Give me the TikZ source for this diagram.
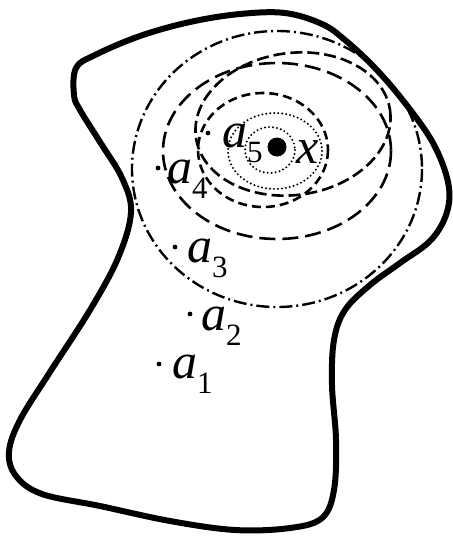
\documentclass[tikz,border=0pt]{standalone}
\usepackage{fontspec}
\setmainfont{Liberation Serif}
\newcommand\subdig[1]{\raisebox{-15pt}{\fontsize{31}{31}\selectfont\upshape #1}}
\begin{document}
\begin{tikzpicture}[x=1pt,y=-1pt,
  blob/.style={line width=6pt, line join=round},
  eone/.style={line width=2.6pt, dash pattern=on 9pt off 5pt},
  etwo/.style={line width=2.6pt, dash pattern=on 12pt off 5pt},
  ethree/.style={line width=2.6pt, dash pattern=on 16pt off 7pt},
  efour/.style={line width=2.4pt, dash pattern=on 13pt off 4pt on 2pt off 4pt},
  dotc/.style={line width=2.2pt, line cap=round, dash pattern=on 0pt off 4pt},
  lab/.style={inner sep=0pt, anchor=base west, font=\fontsize{50}{50}\selectfont\itshape}]
\useasboundingbox (0,0) rectangle (453,547);
% neighbourhoods
\draw[efour] (277,169) ellipse [x radius=145, y radius=138];
\draw[ethree] (277,151) ellipse [x radius=114, y radius=88];
\draw[etwo, rotate around={8:(293,124)}] (293,124) ellipse [x radius=98, y radius=71];
\draw[eone] (263,150) ellipse [x radius=65, y radius=57];
\draw[dotc] (275,151) ellipse [x radius=47, y radius=38];
\draw[dotc] (270,150) ellipse [x radius=25, y radius=23];
% region
\draw[blob] plot[smooth cycle, tension=0.6] coordinates {
 (74,95) (76,68) (95,55) (140,36) (190,22) (240,14) (285,13) (322,24)
 (345,40) (375,68) (405,103) (433,143) (448,182) (447,212) (431,240)
 (400,263) (370,285) (345,310) (334,340) (332,385) (336,440) (334,490)
 (322,518) (290,528) (235,530) (170,521) (100,506) (42,494) (16,476)
 (9,452) (20,420) (50,372) (90,310) (118,258) (131,212) (122,178)
 (100,142) (80,110)};
% points
\coordinate (px) at (277,147);
\coordinate (p5) at (208,133);
\coordinate (p4) at (158,168);
\coordinate (p3) at (175,247);
\coordinate (p2) at (190,314);
\coordinate (p1) at (159,364);
\fill (px) circle [radius=9.5];
\foreach \p in {p5,p4,p3,p2,p1} \fill (\p) circle [radius=2.4];
% labels
\node[lab] (lx) at (296,163) {x};
\node[lab] (l5) at (222,147) {a\subdig{5}};
\node[lab] (l4) at (167,183) {a\subdig{4}};
\node[lab] (l3) at (187,262) {a\subdig{3}};
\node[lab] (l2) at (201,330) {a\subdig{2}};
\node[lab] (l1) at (172,378) {a\subdig{1}};
\end{tikzpicture}
\end{document}
